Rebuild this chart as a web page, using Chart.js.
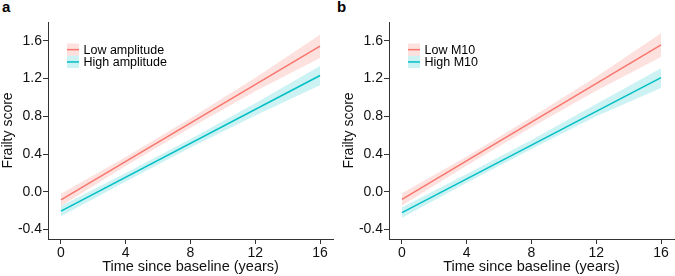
<!DOCTYPE html>
<html>
<head>
<meta charset="utf-8">
<script src="https://cdn.jsdelivr.net/npm/chart.js@4.4.0/dist/chart.umd.min.js"></script>
<style>
  body { margin: 0; background: #fff; }
  #wrap { position: relative; width: 675px; height: 276px; font-family: "Liberation Sans", Arial, sans-serif; }
  .panel { position: absolute; top: 0; height: 276px; }
  .tag { position: absolute; top: -2px; font-weight: bold; font-size: 15px; color: #000; }
</style>
</head>
<body>
<div id="wrap">
  <div class="tag" style="left:2px">a</div>
  <div class="tag" style="left:337px">b</div>
  <div class="panel" style="left:0;width:337px"><canvas id="chartA" width="337" height="276"></canvas></div>
  <div class="panel" style="left:341px;width:334px"><canvas id="chartB" width="334" height="276"></canvas></div>
</div>
<script>
// x axis
const xTicks = [0, 4, 8, 12, 16];
const yTicks = [-0.4, 0, 0.4, 0.8, 1.2, 1.6];
const fitYears = [0, 16];
const bandYears = [0, 4, 8, 12, 16];

// panel a: amplitude
const ampLowFit = [-0.085, 1.544];
const ampLowUpper = [-0.02, 0.37, 0.78, 1.21, 1.665];
const ampLowLower = [-0.15, 0.275, 0.68, 1.065, 1.42];
const ampHighFit = [-0.205, 1.233];
const ampHighUpper = [-0.15, 0.20, 0.56, 0.94, 1.335];
const ampHighLower = [-0.26, 0.11, 0.47, 0.81, 1.13];

// panel b: M10
const m10LowFit = [-0.08, 1.557];
const m10LowUpper = [-0.015, 0.375, 0.79, 1.22, 1.68];
const m10LowLower = [-0.145, 0.28, 0.685, 1.07, 1.43];
const m10HighFit = [-0.22, 1.21];
const m10HighUpper = [-0.165, 0.19, 0.55, 0.93, 1.31];
const m10HighLower = [-0.275, 0.095, 0.455, 0.80, 1.10];

const RED = '#F8766D';
const CYAN = '#00BFC4';
const RED_BAND = 'rgba(248,118,109,0.22)';
const CYAN_BAND = 'rgba(0,191,196,0.2)';
const AXIS = '#333333';
const FONT = "'Liberation Sans', Arial, sans-serif";

function pts(xs, ys) {
    return xs.map((x, i) => ({ x: x, y: ys[i] }));
}

// legend drawn inside the plot area, ggplot style keys
const insideLegend = {
    id: 'insideLegend',
    afterDraw(chart, args, opts) {
        const ctx = chart.ctx;
        ctx.save();
        opts.items.forEach((item, i) => {
            const top = opts.y + i * opts.rowHeight;
            ctx.fillStyle = item.band;
            ctx.fillRect(opts.x, top, 12, opts.rowHeight);
            ctx.strokeStyle = item.color;
            ctx.lineWidth = 1.5;
            ctx.beginPath();
            ctx.moveTo(opts.x, top + opts.rowHeight / 2);
            ctx.lineTo(opts.x + 12, top + opts.rowHeight / 2);
            ctx.stroke();
            ctx.fillStyle = '#000';
            ctx.font = '12.5px ' + FONT;
            ctx.textBaseline = 'middle';
            ctx.fillText(item.label, opts.x + 16.5, top + opts.rowHeight / 2 + 0.5);
        });
        ctx.restore();
    }
};

function makeChart(id, names, series) {
    const lineDs = (data, color) => ({
        data: data, borderColor: color, borderWidth: 1.5,
        pointRadius: 0, fill: false, tension: 0
    });
    const bandDs = (data, fill, band) => ({
        data: data, borderWidth: 0, borderColor: 'rgba(0,0,0,0)',
        backgroundColor: band, pointRadius: 0, fill: fill, tension: 0
    });

    return new Chart(document.getElementById(id), {
        type: 'line',
        data: {
            datasets: [
                lineDs(pts(fitYears, series.lowFit), RED),
                lineDs(pts(fitYears, series.highFit), CYAN),
                bandDs(pts(bandYears, series.lowUpper), false, RED_BAND),
                bandDs(pts(bandYears, series.lowLower), '-1', RED_BAND),
                bandDs(pts(bandYears, series.highUpper), false, CYAN_BAND),
                bandDs(pts(bandYears, series.highLower), '-1', CYAN_BAND)
            ]
        },
        options: {
            responsive: false,
            animation: false,
            layout: { padding: { top: 22, right: id === 'chartA' ? 4 : 1, left: 0, bottom: 0 } },
            plugins: {
                legend: { display: false },
                tooltip: { enabled: false },
                insideLegend: {
                    x: 67, y: 43.5, rowHeight: 12.3,
                    items: [
                        { label: names[0], color: RED, band: RED_BAND },
                        { label: names[1], color: CYAN, band: CYAN_BAND }
                    ]
                }
            },
            scales: {
                x: {
                    type: 'linear', min: -0.8, max: 16.8,
                    afterBuildTicks: s => { s.ticks = xTicks.map(v => ({ value: v })); },
                    afterFit: s => { s.height = 37; },
                    grid: { drawOnChartArea: false, drawTicks: true, tickLength: 5, color: AXIS, lineWidth: 1 },
                    border: { display: true, color: AXIS, width: 1 },
                    ticks: { color: '#111', padding: 1, font: { family: FONT, size: 14 }, maxRotation: 0 },
                    title: { display: true, text: 'Time since baseline (years)', color: '#111',
                             font: { family: FONT, size: 14.5 }, padding: { top: 0, bottom: 0 } }
                },
                y: {
                    type: 'linear', min: -0.5, max: 1.8,
                    afterBuildTicks: s => { s.ticks = yTicks.map(v => ({ value: v })); },
                    afterFit: s => { s.width = 48; },
                    grid: { drawOnChartArea: false, drawTicks: true, tickLength: 5, color: AXIS, lineWidth: 1 },
                    border: { display: true, color: AXIS, width: 1 },
                    ticks: { color: '#111', padding: 1, font: { family: FONT, size: 14 },
                             callback: v => v.toFixed(1) },
                    title: { display: true, text: 'Frailty score', color: '#111',
                             font: { family: FONT, size: 14 }, padding: { top: 0, bottom: 0 } }
                }
            }
        },
        plugins: [insideLegend]
    });
}

makeChart('chartA', ['Low amplitude', 'High amplitude'], {
    lowFit: ampLowFit, highFit: ampHighFit,
    lowUpper: ampLowUpper, lowLower: ampLowLower,
    highUpper: ampHighUpper, highLower: ampHighLower
});

makeChart('chartB', ['Low M10', 'High M10'], {
    lowFit: m10LowFit, highFit: m10HighFit,
    lowUpper: m10LowUpper, lowLower: m10LowLower,
    highUpper: m10HighUpper, highLower: m10HighLower
});
</script>
</body>
</html>
